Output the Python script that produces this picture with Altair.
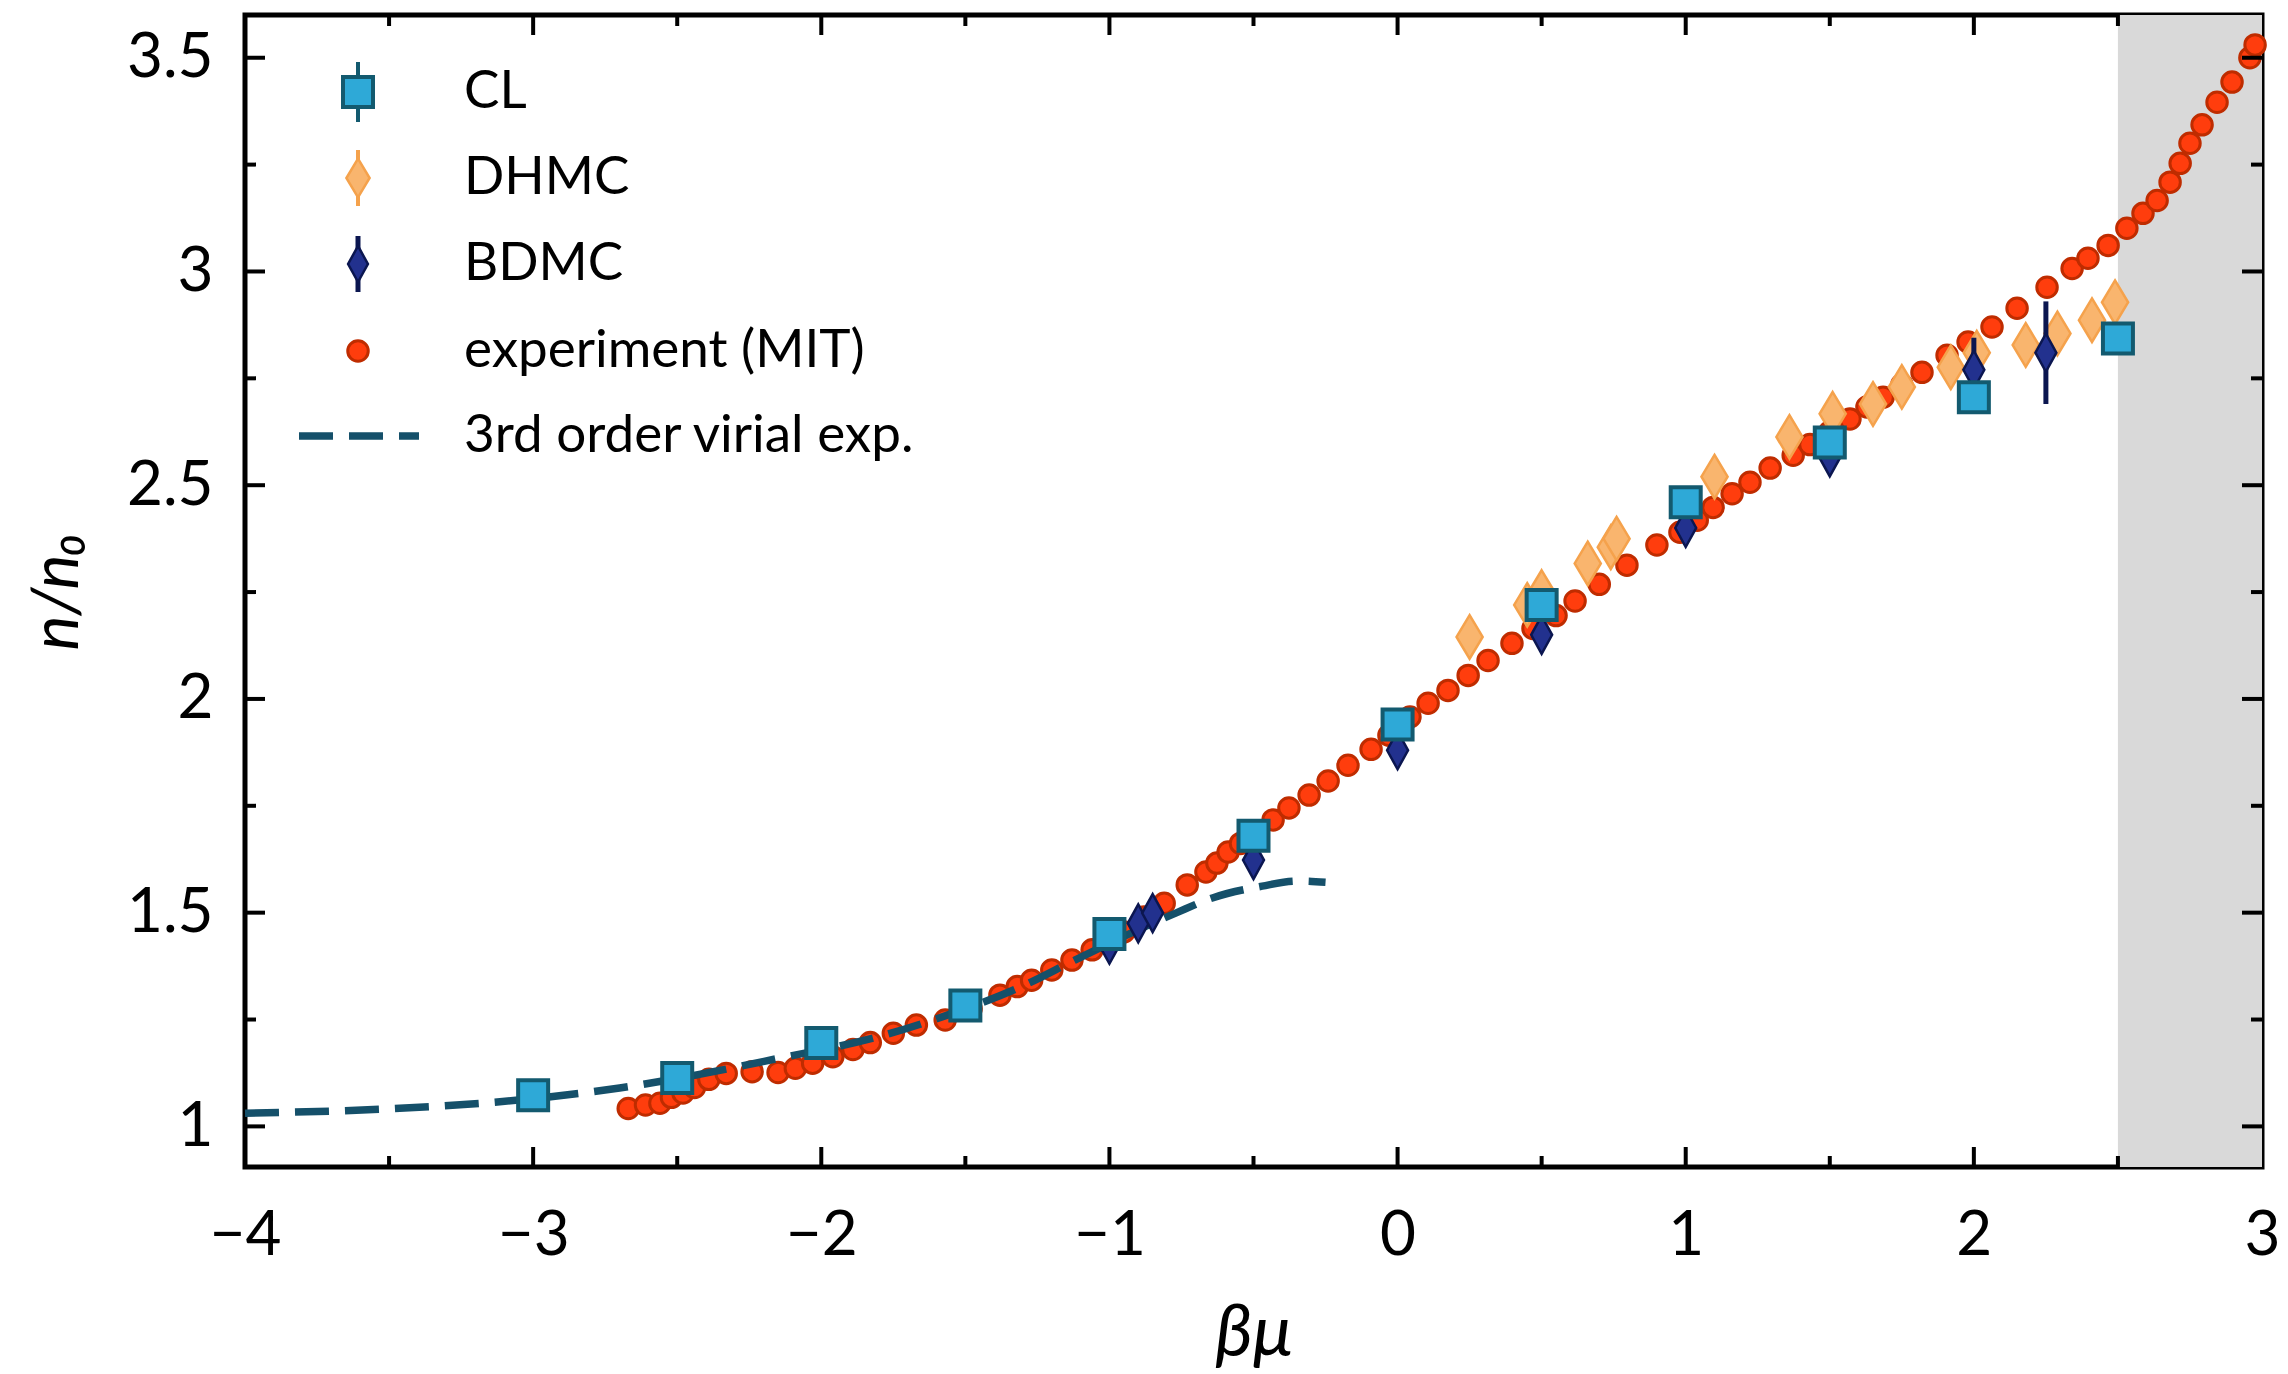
import altair as alt
import pandas as pd

FONT = "Lato"
W, H = 2017, 1152

# ---------------- data ----------------
cl_x = [-3, -2.5, -2, -1.5, -1, -0.5, 0, 0.5, 1, 1.5, 2, 2.5]
cl_y = [1.073, 1.113, 1.195, 1.283, 1.45, 1.68, 1.94, 2.22, 2.46, 2.60, 2.706, 2.843]
cl_err = [0.01, 0.01, 0.01, 0.01, 0.01, 0.015, 0.015, 0.015, 0.015, 0.015, 0.02, 0.02]

dh_x = [0.25, 0.45, 0.5, 0.66, 0.74, 0.76, 1.1, 1.36, 1.51, 1.65, 1.75, 1.92, 2.01, 2.18, 2.29, 2.41, 2.49]
dh_y = [2.145, 2.22, 2.25, 2.317, 2.355, 2.375, 2.52, 2.613, 2.667, 2.69, 2.73, 2.776, 2.81, 2.828, 2.855, 2.886, 2.928]
dh_err = [0.03, 0.03, 0.03, 0.03, 0.03, 0.03, 0.03, 0.03, 0.03, 0.03, 0.03, 0.03, 0.03, 0.03, 0.03, 0.03, 0.03]

bd_x = [-1.0, -0.9, -0.85, -0.5, 0.0, 0.5, 1.0, 1.5, 2.0, 2.25]
bd_y = [1.425, 1.475, 1.499, 1.623, 1.88, 2.15, 2.40, 2.565, 2.77, 2.81]
bd_err = [0.02, 0.02, 0.02, 0.02, 0.02, 0.02, 0.02, 0.02, 0.075, 0.12]

ex_x = [-2.67, -2.61, -2.56, -2.52, -2.48, -2.44, -2.39, -2.33, -2.24, -2.15, -2.09, -2.03,
        -1.96, -1.89, -1.83, -1.75, -1.67, -1.57, -1.48, -1.38, -1.32, -1.27, -1.20, -1.13,
        -1.06, -1.00, -0.95, -0.88, -0.81, -0.73, -0.665, -0.627, -0.588, -0.545, -0.49,
        -0.432, -0.377, -0.307, -0.241, -0.172, -0.092, -0.03, 0.043, 0.106, 0.175, 0.245,
        0.314, 0.397, 0.47, 0.55, 0.616, 0.70, 0.796, 0.90, 0.98, 1.04, 1.095, 1.161, 1.223,
        1.293, 1.373, 1.431, 1.50, 1.57, 1.629, 1.685, 1.75, 1.82, 1.907, 1.98, 2.063, 2.15,
        2.254, 2.341, 2.396, 2.466, 2.531, 2.587, 2.636, 2.681, 2.716, 2.75, 2.792, 2.844,
        2.896, 2.958, 2.976]
ex_y = [1.042, 1.050, 1.054, 1.068, 1.078, 1.091, 1.110, 1.124, 1.128, 1.126, 1.136, 1.148,
        1.163, 1.180, 1.196, 1.218, 1.237, 1.249, 1.275, 1.307, 1.327, 1.342, 1.366, 1.389,
        1.413, 1.435, 1.455, 1.49, 1.522, 1.565, 1.595, 1.616, 1.642, 1.662, 1.69,
        1.717, 1.745, 1.775, 1.808, 1.845, 1.882, 1.915, 1.958, 1.99, 2.02, 2.055,
        2.09, 2.13, 2.165, 2.195, 2.229, 2.268, 2.313, 2.36, 2.39, 2.418, 2.448, 2.48, 2.507,
        2.54, 2.57, 2.595, 2.625, 2.655, 2.683, 2.706, 2.735, 2.764, 2.804, 2.835, 2.87, 2.914,
        2.963, 3.007, 3.031, 3.061, 3.101, 3.136, 3.166, 3.209, 3.253, 3.30, 3.343, 3.396,
        3.443, 3.50, 3.53]

vir_x = [-4, -3.5, -3, -2.7, -2.5, -2.15, -1.8, -1.63, -1.28, -1.12, -0.77, -0.64, -0.47, -0.35, -0.25]
vir_y = [1.031, 1.041, 1.065, 1.09, 1.112, 1.159, 1.21, 1.245, 1.335, 1.389, 1.499, 1.535, 1.562, 1.574, 1.571]

band_x = [2.5]
band_x2 = [3.0]

x_labels = [-4, -3, -2, -1, 0, 1, 2, 3]
y_labels = [1, 1.5, 2, 2.5, 3, 3.5]
x_major = [-3, -2, -1, 0, 1, 2]
x_minor = [-3.5, -2.5, -1.5, -0.5, 0.5, 1.5, 2.5]
y_major = [1, 1.5, 2, 2.5, 3, 3.5]
y_minor = [1.25, 1.75, 2.25, 2.75, 3.25]

legend_labels = ["CL", "DHMC", "BDMC", "experiment (MIT)", "3rd order virial exp."]

# ---------------- tables ----------------
cl = pd.DataFrame({"x": cl_x, "y": cl_y, "lo": [a - b for a, b in zip(cl_y, cl_err)], "hi": [a + b for a, b in zip(cl_y, cl_err)]})
dh = pd.DataFrame({"x": dh_x, "y": dh_y, "lo": [a - b for a, b in zip(dh_y, dh_err)], "hi": [a + b for a, b in zip(dh_y, dh_err)]})
bd = pd.DataFrame({"x": bd_x, "y": bd_y, "lo": [a - b for a, b in zip(bd_y, bd_err)], "hi": [a + b for a, b in zip(bd_y, bd_err)]})
ex = pd.DataFrame({"x": ex_x, "y": ex_y})
vir = pd.DataFrame({"x": vir_x, "y": vir_y})
band = pd.DataFrame({"x": band_x, "x2": band_x2})
dummy = pd.DataFrame({"a": [0]})

xs = alt.Scale(domain=[-4, 3], nice=False, zero=False)
ys = alt.Scale(domain=[0.905, 3.6], nice=False, zero=False)

AX = alt.Axis(values=x_labels, ticks=False, domain=False, grid=False,
              labelExpr="datum.value < 0 ? '\u2212' + format(-datum.value, 'd') : format(datum.value, 'd')",
              labelFont=FONT, labelFontSize=62, labelColor="black", labelPadding=38,
              labelFlush=False, labelOverlap=False,
              titleFont=FONT, titleFontSize=72, titleFontStyle="italic", titleFontWeight="normal",
              titleColor="black", titleY=166, titleBaseline="middle")
AY = alt.Axis(values=y_labels, ticks=False, domain=False, grid=False, format="~g",
              labelFont=FONT, labelFontSize=62, labelColor="black", labelPadding=32,
              labelFlush=False, labelOverlap=False,
              titleFont=FONT, titleFontSize=66, titleFontStyle="italic", titleFontWeight="normal",
              titleColor="black", titleAngle=270, titleX=-188, titleY=576,
              titleAlign="center", titleBaseline="middle")
XT, YT = "βμ", "n/n₀"


def X(field="x"):
    return alt.X(f"{field}:Q", scale=xs, axis=AX, title=XT)


def Y(field="y"):
    return alt.Y(f"{field}:Q", scale=ys, axis=AY, title=YT)


C_CL_F, C_CL_S = "#2ea9d7", "#135a6f"
C_DH_F, C_DH_S = "#f9b56e", "#f5a24c"
C_BD_F, C_BD_S = "#22318e", "#0b1650"
C_EX_F, C_EX_S = "#ff3d0d", "#bf2c00"
C_VIR = "#15506a"

DIAM_DH = "M0,-1L0.6,0L0,1L-0.6,0Z"
DIAM_BD = "M0,-1L0.55,0L0,1L-0.55,0Z"

band_layer = alt.Chart(band).mark_rect(color="#d9d9d9").encode(
    x=X(), x2="x2:Q", y=alt.value(0), y2=alt.value(H))

ex_layer = alt.Chart(ex).mark_point(shape="circle", filled=True, fill=C_EX_F, stroke=C_EX_S,
                                    strokeWidth=3, size=420, opacity=1).encode(x=X(), y=Y())

vir_layer = alt.Chart(vir).mark_line(color=C_VIR, strokeWidth=7.5, strokeDash=[34, 16],
                                     interpolate="monotone").encode(x=X(), y=Y())

dh_err_l = alt.Chart(dh).mark_rule(color=C_DH_S, strokeWidth=4).encode(x=X(), y=Y("lo"), y2="hi:Q")
dh_layer = alt.Chart(dh).mark_point(shape=DIAM_DH, filled=True, fill=C_DH_F, stroke=C_DH_S,
                                    strokeWidth=2.5, size=1900, opacity=1).encode(x=X(), y=Y())

bd_err_l = alt.Chart(bd).mark_rule(color=C_BD_S, strokeWidth=5).encode(x=X(), y=Y("lo"), y2="hi:Q")
bd_layer = alt.Chart(bd).mark_point(shape=DIAM_BD, filled=True, fill=C_BD_F, stroke=C_BD_S,
                                    strokeWidth=2.5, size=1450, opacity=1).encode(x=X(), y=Y())

cl_err_l = alt.Chart(cl).mark_rule(color=C_CL_S, strokeWidth=4).encode(x=X(), y=Y("lo"), y2="hi:Q")
cl_layer = alt.Chart(cl).mark_point(shape="square", filled=True, fill=C_CL_F, stroke=C_CL_S,
                                    strokeWidth=4, size=900, opacity=1).encode(x=X(), y=Y())


# ---------------- inward ticks on all four sides ----------------
def xticks(vals, length, top):
    df = pd.DataFrame({"x": vals})
    yy, yy2 = (0, length) if top else (H, H - length)
    return alt.Chart(df).mark_rule(color="black", strokeWidth=4).encode(
        x=X(), y=alt.value(yy), y2=alt.value(yy2))


def yticks(vals, length, right):
    df = pd.DataFrame({"y": vals})
    xx, xx2 = (W, W - length) if right else (0, length)
    return alt.Chart(df).mark_rule(color="black", strokeWidth=4).encode(
        y=Y(), x=alt.value(xx), x2=alt.value(xx2))


tick_layers = [xticks(x_major, 20, False), xticks(x_minor, 11, False),
               xticks(x_major, 20, True), xticks(x_minor, 11, True),
               yticks(y_major, 20, False), yticks(y_minor, 11, False),
               yticks(y_major, 20, True), yticks(y_minor, 11, True)]

# ---------------- legend ----------------
LX, TX = 113, 219
LY = [77, 163, 249, 336, 421]


def ltext(i):
    return alt.Chart(dummy).mark_text(align="left", baseline="middle", font=FONT, fontSize=53,
                                      color="black").encode(
        x=alt.value(TX), y=alt.value(LY[i]), text=alt.value(legend_labels[i]))


def lrule(i, half, color, sw):
    return alt.Chart(dummy).mark_rule(color=color, strokeWidth=sw).encode(
        x=alt.value(LX), y=alt.value(LY[i] - half), y2=alt.value(LY[i] + half))


leg = [
    lrule(0, 30, C_CL_S, 4),
    alt.Chart(dummy).mark_point(shape="square", filled=True, fill=C_CL_F, stroke=C_CL_S, strokeWidth=4,
                                size=900, opacity=1).encode(x=alt.value(LX), y=alt.value(LY[0])),
    lrule(1, 28, C_DH_S, 4),
    alt.Chart(dummy).mark_point(shape=DIAM_DH, filled=True, fill=C_DH_F, stroke=C_DH_S, strokeWidth=2.5,
                                size=1500, opacity=1).encode(x=alt.value(LX), y=alt.value(LY[1])),
    lrule(2, 28, C_BD_S, 5),
    alt.Chart(dummy).mark_point(shape=DIAM_BD, filled=True, fill=C_BD_F, stroke=C_BD_S, strokeWidth=2.5,
                                size=1300, opacity=1).encode(x=alt.value(LX), y=alt.value(LY[2])),
    alt.Chart(dummy).mark_point(shape="circle", filled=True, fill=C_EX_F, stroke=C_EX_S, strokeWidth=3,
                                size=420, opacity=1).encode(x=alt.value(LX), y=alt.value(LY[3])),
    alt.Chart(dummy).mark_rule(color=C_VIR, strokeWidth=7.5, strokeDash=[34, 16]).encode(
        x=alt.value(54), x2=alt.value(174), y=alt.value(LY[4])),
] + [ltext(i) for i in range(5)]

chart = alt.layer(
    band_layer, ex_layer, vir_layer, dh_err_l, dh_layer, bd_err_l, bd_layer, cl_err_l, cl_layer,
    *tick_layers, *leg
).properties(
    width=W, height=H,
    padding={"left": 237, "top": 7, "right": 18, "bottom": 207},
    autosize=alt.AutoSizeParams(type="none"),
    background="white",
).configure_view(stroke="black", strokeWidth=5)

chart.save("out.html", embed_options={"renderer": "svg", "actions": False})
